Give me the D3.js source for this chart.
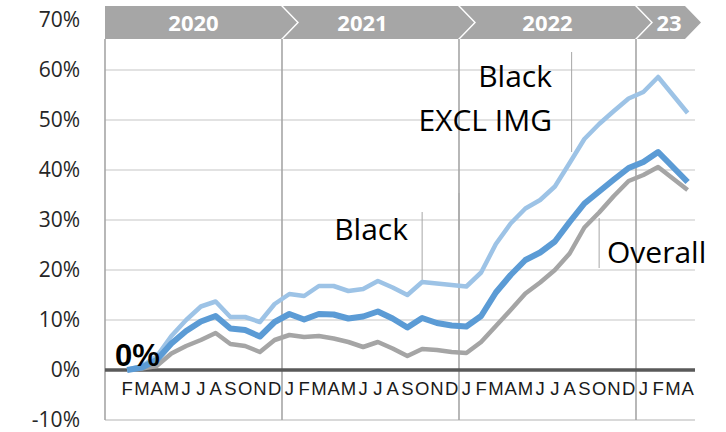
<!DOCTYPE html>
<html>
<head>
<meta charset="utf-8">
<script src="https://d3js.org/d3.v7.min.js"></script>
<style>
  body { margin: 0; background: #fff; }
  text { font-family: "Open Sans", "Noto Sans", sans-serif; }
  .month { font-family: "Liberation Sans Narrow", "Arial Narrow", "Liberation Sans", sans-serif; font-stretch: condensed; }
</style>
</head>
<body>
<div id="chartContainer"></div>
<script>
// months on the x axis, Jan 2020 .. Apr 2023 (Jan 2020 has no label and no value)
var months = [];
for (var yr = 2020; yr <= 2023; yr++) {
  for (var m = 1; m <= 12; m++) {
    if (yr === 2023 && m > 4) break;
    months.push(yr + "-" + (m < 10 ? "0" + m : m));
  }
}
var monthLabels = ["", "F", "M", "A", "M", "J", "J", "A", "S", "O", "N", "D",
  "J", "F", "M", "A", "M", "J", "J", "A", "S", "O", "N", "D",
  "J", "F", "M", "A", "M", "J", "J", "A", "S", "O", "N", "D",
  "J", "F", "M", "A"];

var years = ["2020", "2021", "2022", "23"];
var yearFirstMonth = ["2020-01", "2021-01", "2022-01", "2023-01"];

// series values in %, Feb 2020 .. Apr 2023
var blackExclImg = [0, 0.8, 2.7, 6.8, 10, 12.7, 13.7, 10.6, 10.6, 9.6, 13.2,
  15.2, 14.8, 16.8, 16.8, 15.8, 16.2, 17.8, 16.5, 15, 17.6, 17.3, 17,
  16.7, 19.5, 25.2, 29.3, 32.3, 34, 36.7, 41.4, 46.2, 49.2, 51.8, 54.3,
  55.6, 58.6, 55, 51.4];
var black = [0, 0.5, 2, 5.3, 7.8, 9.7, 10.8, 8.3, 8, 6.7, 9.6,
  11.2, 10.1, 11.2, 11.1, 10.3, 10.7, 11.7, 10.3, 8.5, 10.4, 9.4, 8.9,
  8.7, 10.8, 15.5, 19, 22, 23.5, 25.7, 29.6, 33.3, 35.7, 38.1, 40.4,
  41.6, 43.6, 40.6, 37.6];
var overall = [0, 0.3, 0.8, 3.3, 4.8, 6, 7.4, 5.2, 4.8, 3.6, 6,
  7, 6.6, 6.8, 6.3, 5.6, 4.6, 5.6, 4.3, 2.8, 4.2, 4, 3.6,
  3.4, 5.6, 8.8, 12, 15.3, 17.5, 20, 23.3, 28.5, 31.5, 34.8, 37.8,
  39, 40.6, 38.3, 36];

var yTicks = [-10, 0, 10, 20, 30, 40, 50, 60, 70];

var W = 726, H = 432;
var svg = d3.select("#chartContainer").append("svg")
  .attr("width", W).attr("height", H);

var x = d3.scaleBand().domain(months).range([105, 695]);
var y = d3.scaleLinear().domain([-10, 70]).range([420, 20]);
var cx = function(k) { return x(k) + x.bandwidth() / 2; };
var dataMonths = months.slice(1);

// gridlines
svg.append("g").selectAll("line")
  .data(yTicks.filter(function(t) { return t > 0 && t < 70; }))
  .join("line")
  .attr("x1", 105).attr("x2", 695)
  .attr("y1", function(d) { return y(d); }).attr("y2", function(d) { return y(d); })
  .attr("stroke", "#d9d9d9").attr("stroke-width", 1.3);
svg.append("line")
  .attr("x1", 105).attr("x2", 695).attr("y1", y(-10)).attr("y2", y(-10))
  .attr("stroke", "#d9d9d9").attr("stroke-width", 2);

// y tick labels
svg.append("g").selectAll("text")
  .data(yTicks).join("text")
  .attr("x", 80).attr("y", function(d) { return y(d); })
  .attr("dy", "0.35em")
  .attr("text-anchor", "end")
  .style("font-size", "21px").style("fill", "#262626")
  .text(function(d) { return d + "%"; });

// left axis + year separators
svg.append("line")
  .attr("x1", 105).attr("x2", 105).attr("y1", 39).attr("y2", y(-10))
  .attr("stroke", "#a6a6a6").attr("stroke-width", 1.6);
svg.append("g").selectAll("line")
  .data(yearFirstMonth.slice(1)).join("line")
  .attr("x1", function(d) { return x(d); }).attr("x2", function(d) { return x(d); })
  .attr("y1", 39).attr("y2", y(-10))
  .attr("stroke", "#a6a6a6").attr("stroke-width", 1.6);

// leader lines for the labels
var leaders = [
  ["2021-10", 31.6, 17.4],
  ["2021-12", 35.4, 28],
  ["2022-08", 63.6, 43.6],
  ["2022-10", 30.4, 20.4]
];
svg.append("g").selectAll("line")
  .data(leaders).join("line")
  .attr("x1", function(d, i) { return i === 1 ? x(d[0]) + x.bandwidth() : cx(d[0]) + (i === 2 ? 2 : 0); })
  .attr("x2", function(d, i) { return i === 1 ? x(d[0]) + x.bandwidth() : cx(d[0]) + (i === 2 ? 2 : 0); })
  .attr("y1", function(d) { return y(d[1]); }).attr("y2", function(d) { return y(d[2]); })
  .attr("stroke", "#a6a6a6").attr("stroke-width", 1);

// zero line
svg.append("line")
  .attr("x1", 105).attr("x2", 695).attr("y1", y(0)).attr("y2", y(0))
  .attr("stroke", "#595959").attr("stroke-width", 3.4);

// month labels
svg.append("g").selectAll("text")
  .data(months).join("text")
  .attr("class", "month")
  .attr("x", function(d) { return cx(d); }).attr("y", 395)
  .attr("text-anchor", "middle")
  .style("font-size", "18.5px").style("fill", "#1a1a1a")
  .text(function(d, i) { return monthLabels[i]; });

// year banner (chevrons)
var bTop = 6, bBot = 39, bMid = (bTop + bBot) / 2, tip = 16;
var yearBands = years.map(function(name, i) {
  var x0 = x(yearFirstMonth[i]);
  var x1 = i < years.length - 1 ? x(yearFirstMonth[i + 1]) : x.range()[1] - 9;
  return { name: name, x0: x0, x1: x1, first: i === 0 };
});
svg.append("g").selectAll("path")
  .data(yearBands).join("path")
  .attr("d", function(d) {
    var l = d.x0 + 1, r = d.x1 - 1;
    var p = "M" + (d.first ? d.x0 : l) + "," + bTop + "L" + r + "," + bTop +
      "L" + (r + tip) + "," + bMid + "L" + r + "," + bBot + "L" + (d.first ? d.x0 : l) + "," + bBot;
    if (!d.first) p += "L" + (l + tip) + "," + bMid;
    return p + "Z";
  })
  .attr("fill", "#a6a6a6");
svg.append("g").selectAll("text")
  .data(yearBands).join("text")
  .attr("x", function(d, i) { return i === years.length - 1 ? (d.x0 + d.x1 + tip) / 2 : (d.x0 + d.x1) / 2 - (i === 1 ? 8 : 0); })
  .attr("y", 30.5)
  .attr("text-anchor", "middle")
  .style("font-size", "22px").style("font-weight", "bold").style("fill", "#fff")
  .text(function(d) { return d.name; });

// lines
var line = function(vals) {
  return d3.line()
    .x(function(d, i) { return cx(dataMonths[i]); })
    .y(function(d) { return y(d); })(vals);
};
var series = [
  { vals: overall, color: "#a5a5a5", w: 4.5 },
  { vals: blackExclImg, color: "#9dc3e6", w: 4.5 },
  { vals: black, color: "#5b9bd5", w: 6 }
];
svg.append("g").selectAll("path")
  .data(series).join("path")
  .attr("d", function(d) { return line(d.vals); })
  .attr("fill", "none")
  .attr("stroke", function(d) { return d.color; })
  .attr("stroke-width", function(d) { return d.w; })
  .attr("stroke-linejoin", "round");

// "0%" callout
svg.append("text")
  .attr("x", 115).attr("y", 366)
  .style("font-family", "'Liberation Sans', Arial, sans-serif")
  .style("font-size", "31px").style("font-weight", "bold").style("fill", "#000")
  .text("0%");

// series labels
var lab = function(t, xx, yy, anchor) {
  svg.append("text").attr("x", xx).attr("y", yy)
    .attr("text-anchor", anchor)
    .style("font-size", "30px").style("fill", "#000")
    .text(t);
};
lab("Black", 408, 240, "end");
lab("Black", 552, 87, "end");
lab("EXCL IMG", 552, 131, "end");
lab("Overall", 607, 263, "start");
</script>
</body>
</html>
